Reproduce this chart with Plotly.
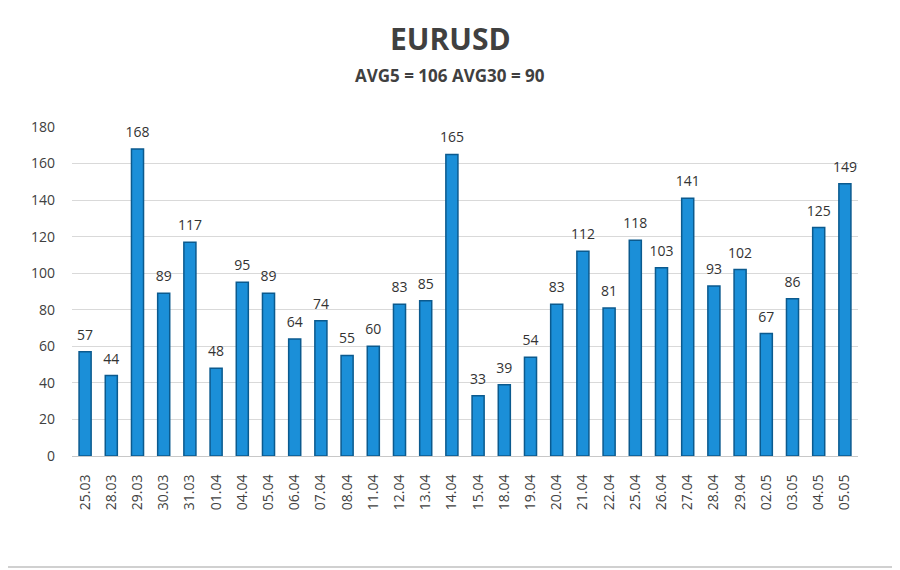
"""EURUSD daily volatility bars — recreated in Plotly."""

import plotly.graph_objects as go

DATES = [
    "25.03", "28.03", "29.03", "30.03", "31.03", "01.04", "04.04", "05.04",
    "06.04", "07.04", "08.04", "11.04", "12.04", "13.04", "14.04", "15.04",
    "18.04", "19.04", "20.04", "21.04", "22.04", "25.04", "26.04", "27.04",
    "28.04", "29.04", "02.05", "03.05", "04.05", "05.05",
]
VOLATILITY = [
    57, 44, 168, 89, 117, 48, 95, 89, 64, 74, 55, 60, 83, 85, 165, 33,
    39, 54, 83, 112, 81, 118, 103, 141, 93, 102, 67, 86, 125, 149,
]
Y_TICKS = [0, 20, 40, 60, 80, 100, 120, 140, 160, 180]

TITLE = "EURUSD"
SUBTITLE = "AVG5 = 106 AVG30 = 90"

FONT = "Open Sans, Segoe UI, sans-serif"
TEXT_COLOR = "#404040"
BAR_COLOR = "#1b8fd8"
BAR_EDGE = "#0b5a8e"

# page body has an 8px margin, so the figure is placed 8px right/down
OFF = 8
W, H = 900, 570
M_L, M_R, M_T, M_B = 72 - OFF, 42 + OFF, 127 - OFF, 114 + OFF
pw = W - M_L - M_R
ph = H - M_T - M_B


def px_x(x):
    """Figure pixel -> paper x."""
    return (x - M_L) / pw


def px_y(y):
    """Figure pixel (from top) -> paper y."""
    return (H - M_B - y) / ph


fig = go.Figure()
fig.add_trace(
    go.Bar(
        x=DATES,
        y=VOLATILITY,
        marker=dict(color=BAR_COLOR, line=dict(color=BAR_EDGE, width=1.5)),
        hoverinfo="x+y",
    )
)
# value labels above the bars (invisible marker gives the gap)
fig.add_trace(
    go.Scatter(
        x=DATES,
        y=VOLATILITY,
        mode="markers+text",
        marker=dict(size=12, color="rgba(0,0,0,0)"),
        text=[str(v) for v in VOLATILITY],
        textposition="top center",
        textfont=dict(family=FONT, size=14, color="#333333"),
        cliponaxis=False,
        hoverinfo="skip",
    )
)

# faint frame on the visible right and bottom edges
frame = dict(color="#d0d0d0", width=2)
fig.add_shape(type="line", xref="paper", yref="paper",
              x0=px_x(W - OFF - 4), x1=px_x(W - OFF - 4),
              y0=px_y(H - OFF - 3), y1=px_y(0), line=frame, layer="below")
fig.add_shape(type="line", xref="paper", yref="paper",
              x0=px_x(0), x1=px_x(W - OFF - 4),
              y0=px_y(H - OFF - 3), y1=px_y(H - OFF - 3), line=frame, layer="below")

cx = px_x(450 - OFF)
fig.add_annotation(
    text=f"<b>{TITLE}</b>", xref="paper", yref="paper",
    x=cx, y=px_y(38 - OFF),
    showarrow=False, font=dict(family=FONT, size=30, color=TEXT_COLOR),
    yanchor="middle",
)
fig.add_annotation(
    text=f"<b>{SUBTITLE}</b>", xref="paper", yref="paper",
    x=cx, y=px_y(76 - OFF),
    showarrow=False, font=dict(family=FONT, size=17, color=TEXT_COLOR),
    yanchor="middle",
)

fig.update_layout(
    width=W,
    height=H,
    margin=dict(l=M_L, r=M_R, t=M_T, b=M_B),
    paper_bgcolor="white",
    plot_bgcolor="white",
    bargap=0.54,
    showlegend=False,
    font=dict(family=FONT, color=TEXT_COLOR),
    xaxis=dict(
        type="category",
        range=[-0.5, len(DATES) - 0.5],
        tickangle=-90,
        tickfont=dict(size=14, color=TEXT_COLOR),
        showline=True,
        linecolor="#c8c8c8",
        showgrid=False,
        ticks="",
        ticklabelstandoff=12,
    ),
    yaxis=dict(
        range=[0, 180],
        tickvals=Y_TICKS,
        tickfont=dict(size=14, color=TEXT_COLOR),
        gridcolor="#d9d9d9",
        zeroline=False,
        showline=False,
        ticklabelstandoff=16,
    ),
)

fig.write_html("out.html")
